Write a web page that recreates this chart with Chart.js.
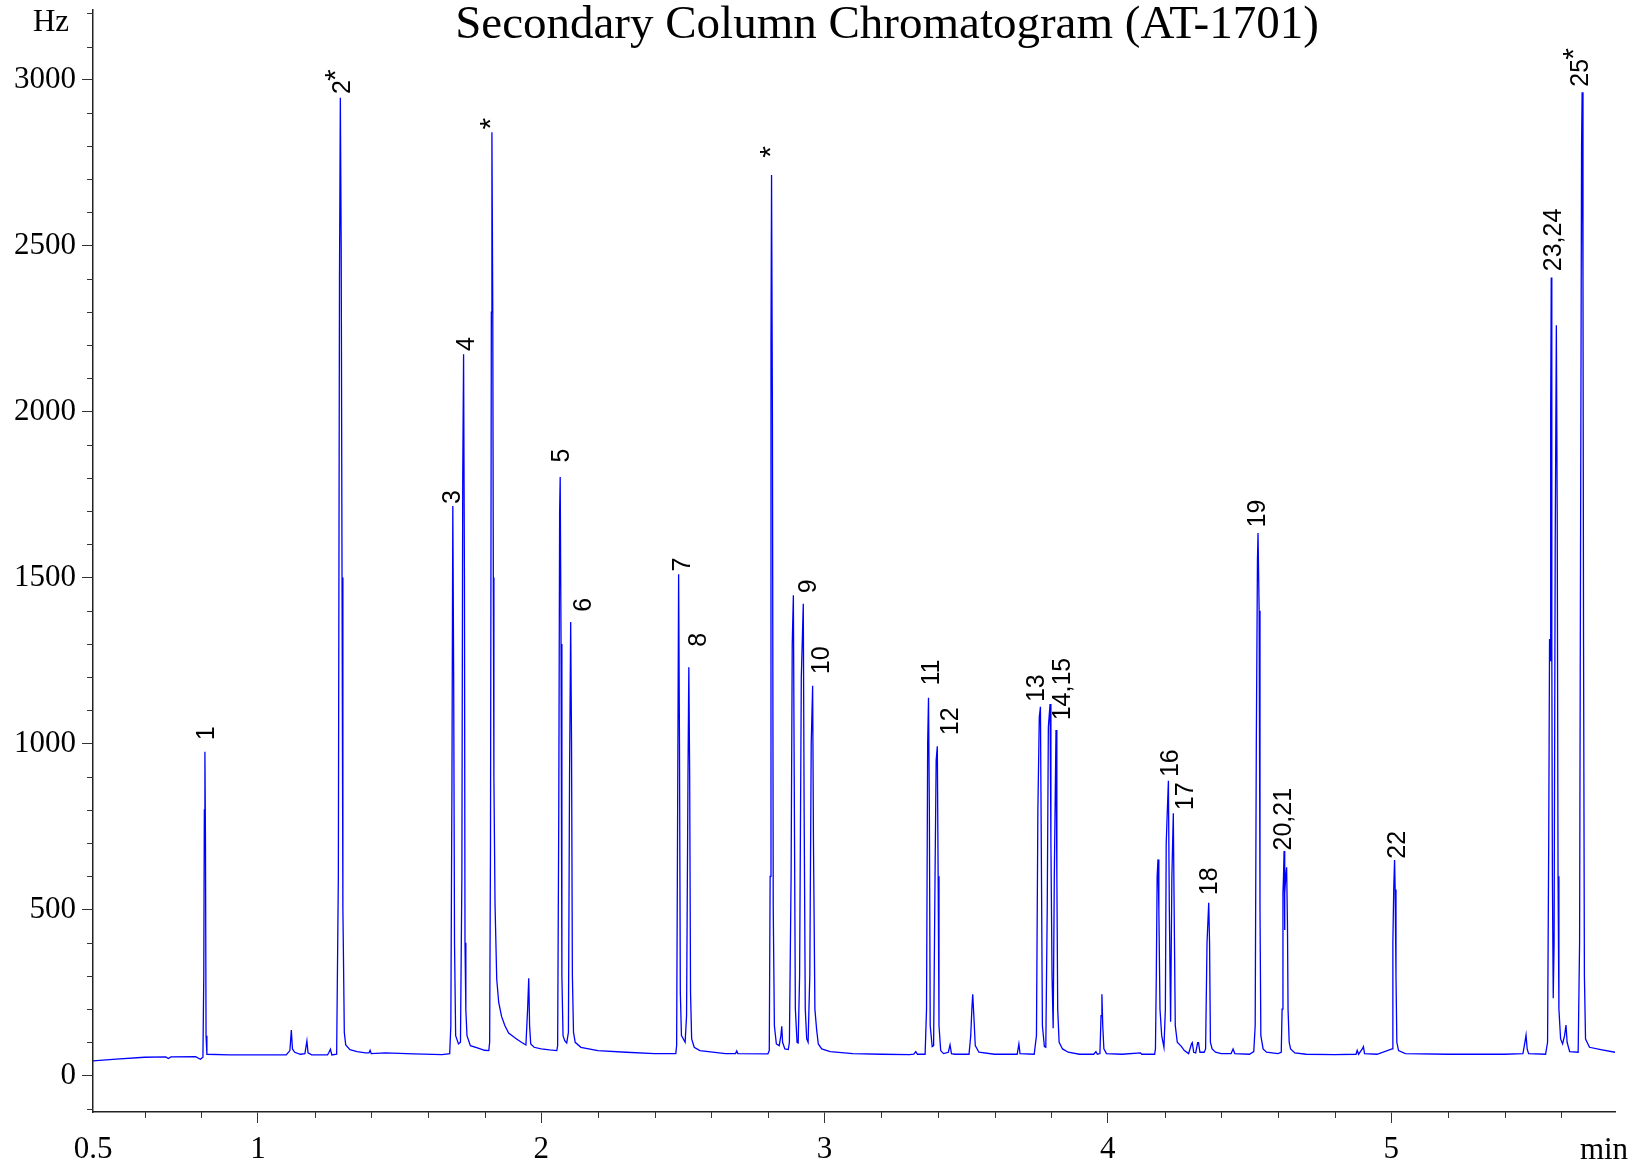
<!DOCTYPE html>
<html>
<head>
<meta charset="utf-8">
<script src="https://cdn.jsdelivr.net/npm/chart.js@4/dist/chart.umd.min.js"></script>
<style>
html,body{margin:0;padding:0;background:#fff;}
canvas{display:block;}
</style>
</head>
<body>
<canvas id="c" width="1642" height="1164"></canvas>
<script>
// ---------------- DATA ----------------
const chartTitle = 'Secondary Column Chromatogram (AT-1701)';
const yUnit = 'Hz';
const xUnit = 'min';

// retention time (min) of each trace vertex
const timeMin = [
  0.418, 0.50, 0.60, 0.675, 0.684, 0.693, 0.78, 0.797, 0.806, 0.809, 0.811, 0.813, 0.815, 0.817, 0.820,
  0.90, 1.00, 1.10, 1.113, 1.118, 1.122, 1.13, 1.15, 1.166, 1.173, 1.177, 1.19, 1.246, 1.251, 1.256, 1.261, 1.278,
  1.284, 1.288, 1.291, 1.294, 1.297, 1.300, 1.302, 1.305, 1.310, 1.325, 1.35, 1.38, 1.392, 1.396, 1.40, 1.45, 1.55, 1.65, 1.677,
  1.681, 1.685, 1.688, 1.691, 1.694, 1.698, 1.708, 1.715, 1.720, 1.723, 1.726, 1.729, 1.731, 1.734, 1.738, 1.75, 1.78, 1.80, 1.815,
  1.818, 1.821, 1.824, 1.826, 1.829, 1.831, 1.833, 1.837, 1.843, 1.850, 1.860, 1.872, 1.885, 1.90, 1.913, 1.93, 1.946, 1.952, 1.956, 1.959, 1.963, 1.975, 2.00, 2.03, 2.055,
  2.058, 2.062, 2.065, 2.067, 2.070, 2.073, 2.077, 2.083, 2.090, 2.096, 2.100, 2.104, 2.107, 2.110, 2.114, 2.12, 2.14, 2.20, 2.30, 2.40, 2.475,
  2.478, 2.482, 2.485, 2.488, 2.491, 2.495, 2.508, 2.513, 2.518, 2.521, 2.524, 2.527, 2.531, 2.54, 2.56, 2.65, 2.686, 2.690, 2.694, 2.80,
  2.805, 2.808, 2.811, 2.813, 2.816, 2.819, 2.823, 2.83, 2.840, 2.846, 2.849, 2.852, 2.86, 2.872, 2.876, 2.882, 2.886, 2.890, 2.893, 2.897,
  2.903, 2.907, 2.912, 2.918, 2.925, 2.928, 2.932, 2.937, 2.942, 2.948, 2.953, 2.958, 2.961, 2.966, 2.972, 2.978, 2.99, 3.02, 3.10, 3.20, 3.30,
  3.315, 3.322, 3.328, 3.355, 3.360, 3.364, 3.367, 3.370, 3.373, 3.380, 3.385, 3.390, 3.394, 3.398, 3.401, 3.404, 3.41, 3.42, 3.437, 3.443,
  3.448, 3.46, 3.51, 3.516, 3.520, 3.523, 3.527, 3.532, 3.545, 3.60, 3.68, 3.686, 3.690, 3.74,
  3.748, 3.753, 3.758, 3.762, 3.765, 3.769, 3.776, 3.781, 3.786, 3.790, 3.796, 3.799, 3.803, 3.807, 3.811, 3.817, 3.820, 3.823, 3.828, 3.84,
  3.86, 3.90, 3.95, 3.958, 3.963, 3.972, 3.976, 3.979, 3.982, 3.986, 3.995, 4.05, 4.115, 4.12, 4.165,
  4.168, 4.171, 4.174, 4.177, 4.180, 4.184, 4.190, 4.198, 4.203, 4.206, 4.210, 4.2137, 4.217, 4.2215, 4.226, 4.231, 4.234, 4.238, 4.245, 4.26,
  4.27, 4.285, 4.295, 4.298, 4.303, 4.31, 4.317, 4.320, 4.325, 4.340, 4.345, 4.350, 4.356, 4.359, 4.362, 4.368, 4.38, 4.40, 4.435, 4.442,
  4.448, 4.50, 4.515,
  4.520, 4.524, 4.528, 4.530, 4.534, 4.537, 4.540, 4.548, 4.56, 4.60, 4.612, 4.615, 4.618, 4.620, 4.622, 4.6235, 4.625, 4.628, 4.631, 4.634,
  4.636, 4.640, 4.645, 4.66, 4.70, 4.80, 4.876, 4.880, 4.885, 4.898, 4.902, 4.906, 4.95, 5.003, 5.006, 5.009, 5.012, 5.014, 5.017, 5.020,
  5.026, 5.05, 5.20, 5.40, 5.465, 5.472, 5.476, 5.480, 5.485, 5.545,
  5.552, 5.556, 5.559, 5.561, 5.563, 5.565, 5.567, 5.569, 5.572, 5.575, 5.579, 5.583, 5.586, 5.589, 5.592, 5.598, 5.605, 5.612, 5.617, 5.621,
  5.63, 5.660, 5.665, 5.669, 5.672, 5.674, 5.677, 5.679, 5.682, 5.686, 5.70, 5.74, 5.79
];

// detector signal (Hz) at each vertex
const signalHz = [
  44, 49, 55, 56, 51, 56, 57, 49, 55, 300, 800, 975, 700, 120, 64,
  62, 62, 62, 75, 137, 80, 70, 64, 66, 104, 68, 62, 62, 70, 79, 62, 64,
  600, 2400, 2946, 2500, 1500, 500, 358, 130, 92, 78, 72, 68, 68, 76, 66, 68, 65, 63, 66,
  150, 900, 1716, 1200, 400, 120, 95, 100, 600, 1800, 2173, 1500, 400, 197, 120, 90, 82, 76, 75,
  100, 700, 2300, 2842, 2300, 1500, 900, 515, 290, 220, 178, 150, 128, 118, 110, 100, 92, 200, 293, 150, 95, 85, 80, 77, 75,
  90, 800, 1700, 1803, 1300, 300, 120, 105, 98, 130, 900, 1366, 1000, 300, 130, 100, 85, 75, 70, 66, 66,
  90, 900, 1510, 1000, 250, 120, 100, 180, 900, 1230, 900, 250, 110, 85, 75, 66, 66, 74, 66, 65,
  75, 600, 2200, 2713, 2000, 500, 150, 95, 90, 120, 148, 100, 80, 78, 100, 600, 1300, 1447, 900, 200,
  100, 98, 300, 1200, 1421, 800, 200, 110, 100, 300, 1000, 1174, 700, 200, 139, 95, 80, 72, 66, 64, 63,
  64, 72, 64, 64, 200, 1000, 1138, 800, 150, 87, 90, 600, 950, 992, 600, 150, 75, 66, 70, 92,
  66, 64, 64, 120, 200, 245, 180, 90, 70, 64, 64, 95, 66, 64,
  120, 800, 1080, 1111, 700, 150, 87, 85, 500, 1050, 1119, 700, 300, 142, 600, 1041, 600, 200, 100, 80,
  70, 64, 64, 72, 64, 66, 180, 245, 150, 80, 66, 64, 68, 64, 64,
  80, 300, 600, 651, 500, 200, 120, 85, 200, 700, 800, 888, 500, 162, 600, 790, 500, 150, 100, 87,
  75, 66, 95, 99, 70, 68, 99, 99, 70, 70, 80, 400, 520, 400, 100, 80, 70, 66, 66, 80,
  66, 64, 72,
  150, 1000, 1550, 1634, 1400, 500, 120, 80, 70, 66, 70, 200, 550, 600, 676, 438, 550, 600, 627, 450,
  200, 100, 80, 68, 64, 63, 64, 76, 64, 80, 87, 66, 64, 80, 400, 560, 649, 560, 300, 100,
  75, 66, 64, 64, 66, 100, 122, 80, 66, 64,
  100, 700, 1315, 1250, 2000, 2404, 1300, 600, 233, 400, 1600, 2260, 1700, 600, 200, 110, 95, 120, 152, 100,
  72, 70, 400, 1800, 2800, 2962, 2400, 1300, 300, 110, 85, 78, 70
];

// peak annotations: text, anchor time (min), anchor signal (Hz); '*' marks an internal standard
const labelText = ['1', '2*', '3', '4', '*', '5', '6', '7', '8', '*', '9', '10', '11', '12', '13', '14,15',
                   '16', '17', '18', '19', '20,21', '22', '23,24', '25*'];
const labelTime = [0.8215, 1.2995, 1.689, 1.737, 1.826, 2.074, 2.153, 2.5005, 2.558, 2.813, 2.945, 2.99, 3.3806, 3.445, 3.752, 3.842,
                   4.2226, 4.277, 4.3594, 4.532, 4.6235, 5.0254, 5.576, 5.670];
const labelHz   = [1010, 2957, 1722, 2183, 2850, 1847, 1397, 1518, 1292, 2765, 1453, 1209, 1175, 1025, 1125, 1070,
                   899, 799, 543, 1651, 678, 653, 2423, 2979];

// axes
const xMin = 0.418, xMax = 5.79;
const yMin = -110, yMax = 3210;
const xTickValues = [xMin, 1, 2, 3, 4, 5];
const xTickLabels = ['0.5', '1', '2', '3', '4', '5'];
const xMinorTicks = [0.6, 0.8, 1.2, 1.4, 1.6, 1.8, 2.2, 2.4, 2.6, 2.8, 3.2, 3.4, 3.6, 3.8, 4.2, 4.4, 4.6, 4.8, 5.2, 5.4, 5.6];
const yTickValues = [0, 500, 1000, 1500, 2000, 2500, 3000];
const yMinorTicks = [-100, 100, 200, 300, 400, 600, 700, 800, 900, 1100, 1200, 1300, 1400, 1600, 1700, 1800, 1900,
                     2100, 2200, 2300, 2400, 2600, 2700, 2800, 2900, 3100, 3200];

// ---------------- CHART ----------------
const SERIF = '"Liberation Serif", "Times New Roman", serif';
const SANS = '"Liberation Sans", Arial, sans-serif';
const AXIS_COLOR = '#333';

const overlay = {
  id: 'overlay',
  afterDraw(chart) {
    const ctx = chart.ctx;
    const x = chart.scales.x, y = chart.scales.y;
    ctx.save();
    // minor ticks
    ctx.strokeStyle = AXIS_COLOR;
    ctx.lineWidth = 1;
    ctx.beginPath();
    yMinorTicks.forEach(v => {
      const py = Math.round(y.getPixelForValue(v)) + 0.5;
      ctx.moveTo(x.left - 6, py); ctx.lineTo(x.left, py);
    });
    xMinorTicks.forEach(t => {
      const px = Math.round(x.getPixelForValue(t)) + 0.5;
      ctx.moveTo(px, y.bottom); ctx.lineTo(px, y.bottom + 6);
    });
    ctx.stroke();

    // title and units
    ctx.fillStyle = '#000';
    ctx.textBaseline = 'alphabetic';
    ctx.textAlign = 'center';
    ctx.font = '47px ' + SERIF;
    ctx.fillText(chartTitle, 887, 38);
    ctx.font = '31px ' + SERIF;
    ctx.fillText(yUnit, 51, 31);
    ctx.fillText(xUnit, 1604, 1159);

    // peak labels (rotated, reading upwards); a trailing '*' is raised like a superscript
    const labelFont = '25px ' + SANS;
    const starFont = '30px ' + SANS;
    ctx.textAlign = 'left';
    ctx.textBaseline = 'middle';
    labelText.forEach((s, i) => {
      ctx.save();
      ctx.translate(x.getPixelForValue(labelTime[i]), y.getPixelForValue(labelHz[i]));
      ctx.rotate(-Math.PI / 2);
      let main = s, star = false;
      if (s.length > 1 && s.endsWith('*')) { main = s.slice(0, -1); star = true; }
      if (s === '*') {
        ctx.font = starFont;
        ctx.fillText('*', 0, 0);
      } else {
        ctx.font = labelFont;
        ctx.fillText(main, 0, 0);
        if (star) {
          const w = ctx.measureText(main).width;
          ctx.font = starFont;
          ctx.fillText('*', w - 1, -6);
        }
      }
      ctx.restore();
    });
    ctx.restore();
  }
};

new Chart(document.getElementById('c'), {
  type: 'line',
  data: {
    datasets: [{
      data: timeMin.map((t, i) => ({ x: t, y: signalHz[i] })),
      borderColor: '#0000ff',
      borderWidth: 1.3,
      pointRadius: 0,
      tension: 0,
      fill: false
    }]
  },
  options: {
    responsive: false,
    devicePixelRatio: 1,
    animation: false,
    layout: { padding: { left: 0, top: 10, right: 27, bottom: 0 } },
    plugins: { legend: { display: false }, tooltip: { enabled: false }, title: { display: false } },
    scales: {
      x: {
        type: 'linear',
        min: xMin, max: xMax,
        position: 'bottom',
        border: { display: true, color: '#222', width: 1.5 },
        grid: {
          drawOnChartArea: false, drawTicks: true, tickLength: 11,
          tickColor: (c) => (c.tick && c.tick.value === xMin) ? 'rgba(0,0,0,0)' : AXIS_COLOR
        },
        afterBuildTicks: (s) => { s.ticks = xTickValues.map(v => ({ value: v })); },
        afterFit: (s) => { s.height = 52; s.paddingLeft = 0; s.paddingRight = 0; },
        ticks: {
          autoSkip: false, maxRotation: 0,
          color: '#000', padding: 8,
          font: { family: SERIF, size: 31 },
          callback: (v, i) => xTickLabels[i]
        }
      },
      y: {
        type: 'linear',
        min: yMin, max: yMax,
        position: 'left',
        border: { display: true, color: '#222', width: 1.5 },
        grid: { drawOnChartArea: false, drawTicks: true, tickLength: 11, tickColor: AXIS_COLOR },
        afterBuildTicks: (s) => { s.ticks = yTickValues.map(v => ({ value: v })); },
        afterFit: (s) => { s.width = 93; s.paddingTop = 0; s.paddingBottom = 0; },
        ticks: {
          color: '#000', padding: 6,
          font: { family: SERIF, size: 31 },
          callback: (v) => String(v)
        }
      }
    }
  },
  plugins: [overlay]
});
</script>
</body>
</html>
